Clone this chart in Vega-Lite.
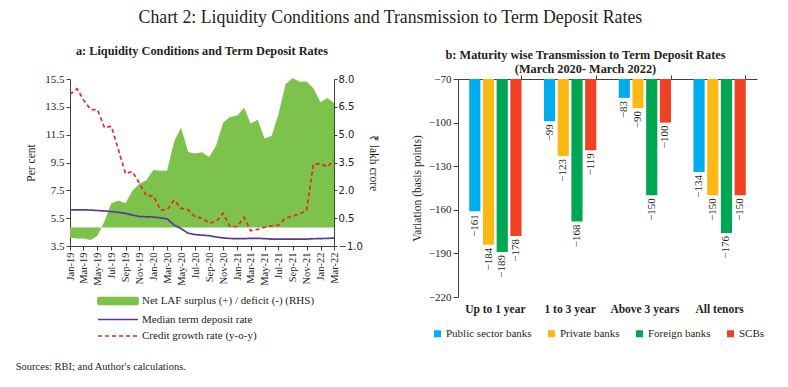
{
  "$schema": "https://vega.github.io/schema/vega-lite/v6.json",
  "background": "white",
  "padding": {"left": 15, "top": 8, "right": 5, "bottom": 5},
  "config": {
    "font": "Liberation Serif",
    "view": {"stroke": null},
    "axis": {"labelFont": "Liberation Serif", "titleFont": "Liberation Serif", "labelColor": "#231F20", "titleColor": "#231F20", "domainColor": "#404040", "tickColor": "#404040", "grid": false, "labelFontSize": 11, "titleFontSize": 11.5, "titleFontWeight": "normal"},
    "legend": {"labelFont": "Liberation Serif", "labelFontSize": 11, "labelColor": "#231F20"},
    "title": {"font": "Liberation Serif", "color": "#231F20"}
  },
  "title": {"text": "Chart 2: Liquidity Conditions and Transmission to Term Deposit Rates", "fontSize": 17.8, "fontWeight": "normal", "anchor": "middle", "offset": 18},
  "vconcat": [
    {
      "title": {"text": "Sources: RBI; and Author's calculations.", "orient": "bottom", "anchor": "start", "fontSize": 10.5, "fontWeight": "normal", "offset": 21, "dx": -10},
      "spacing": 32,
      "resolve": {"scale": {"color": "independent", "strokeDash": "independent"}, "legend": {"color": "independent", "strokeDash": "independent"}},
      "hconcat": [
        {
          "title": {"text": "a: Liquidity Conditions and Term Deposit Rates", "fontSize": 12.3, "fontWeight": "bold", "offset": 16, "anchor": "middle"},
          "width": 264,
          "height": 167,
          "data": {"values": [
            {"d": "2019-01-01", "s": "LAF", "v": -0.55}, {"d": "2019-02-01", "s": "LAF", "v": -0.6}, {"d": "2019-03-01", "s": "LAF", "v": -0.6}, {"d": "2019-04-01", "s": "LAF", "v": -0.67}, {"d": "2019-05-01", "s": "LAF", "v": -0.45}, {"d": "2019-06-01", "s": "LAF", "v": 0.35}, {"d": "2019-07-01", "s": "LAF", "v": 1.3}, {"d": "2019-08-01", "s": "LAF", "v": 1.45}, {"d": "2019-09-01", "s": "LAF", "v": 1.3}, {"d": "2019-10-01", "s": "LAF", "v": 1.98}, {"d": "2019-11-01", "s": "LAF", "v": 2.35}, {"d": "2019-12-01", "s": "LAF", "v": 2.55},
            {"d": "2020-01-01", "s": "LAF", "v": 3.1}, {"d": "2020-02-01", "s": "LAF", "v": 3.05}, {"d": "2020-03-01", "s": "LAF", "v": 3.07}, {"d": "2020-04-01", "s": "LAF", "v": 4.65}, {"d": "2020-05-01", "s": "LAF", "v": 5.37}, {"d": "2020-06-01", "s": "LAF", "v": 4.07}, {"d": "2020-07-01", "s": "LAF", "v": 3.98}, {"d": "2020-08-01", "s": "LAF", "v": 4.05}, {"d": "2020-09-01", "s": "LAF", "v": 3.8}, {"d": "2020-10-01", "s": "LAF", "v": 4.4}, {"d": "2020-11-01", "s": "LAF", "v": 5.65}, {"d": "2020-12-01", "s": "LAF", "v": 5.95},
            {"d": "2021-01-01", "s": "LAF", "v": 6.02}, {"d": "2021-02-01", "s": "LAF", "v": 6.45}, {"d": "2021-03-01", "s": "LAF", "v": 5.6}, {"d": "2021-04-01", "s": "LAF", "v": 5.8}, {"d": "2021-05-01", "s": "LAF", "v": 4.8}, {"d": "2021-06-01", "s": "LAF", "v": 4.94}, {"d": "2021-07-01", "s": "LAF", "v": 6.1}, {"d": "2021-08-01", "s": "LAF", "v": 7.72}, {"d": "2021-09-01", "s": "LAF", "v": 8.05}, {"d": "2021-10-01", "s": "LAF", "v": 7.85}, {"d": "2021-11-01", "s": "LAF", "v": 7.86}, {"d": "2021-12-01", "s": "LAF", "v": 7.5},
            {"d": "2022-01-01", "s": "LAF", "v": 6.75}, {"d": "2022-02-01", "s": "LAF", "v": 6.98}, {"d": "2022-03-01", "s": "LAF", "v": 6.7},
            {"d": "2019-01-01", "s": "MED", "v": 6.1}, {"d": "2019-02-01", "s": "MED", "v": 6.1}, {"d": "2019-03-01", "s": "MED", "v": 6.1}, {"d": "2019-04-01", "s": "MED", "v": 6.08}, {"d": "2019-05-01", "s": "MED", "v": 6.05}, {"d": "2019-06-01", "s": "MED", "v": 6.02}, {"d": "2019-07-01", "s": "MED", "v": 5.97}, {"d": "2019-08-01", "s": "MED", "v": 5.92}, {"d": "2019-09-01", "s": "MED", "v": 5.85}, {"d": "2019-10-01", "s": "MED", "v": 5.72}, {"d": "2019-11-01", "s": "MED", "v": 5.62}, {"d": "2019-12-01", "s": "MED", "v": 5.6},
            {"d": "2020-01-01", "s": "MED", "v": 5.58}, {"d": "2020-02-01", "s": "MED", "v": 5.52}, {"d": "2020-03-01", "s": "MED", "v": 5.45}, {"d": "2020-04-01", "s": "MED", "v": 5.0}, {"d": "2020-05-01", "s": "MED", "v": 4.75}, {"d": "2020-06-01", "s": "MED", "v": 4.42}, {"d": "2020-07-01", "s": "MED", "v": 4.32}, {"d": "2020-08-01", "s": "MED", "v": 4.28}, {"d": "2020-09-01", "s": "MED", "v": 4.24}, {"d": "2020-10-01", "s": "MED", "v": 4.15}, {"d": "2020-11-01", "s": "MED", "v": 4.08}, {"d": "2020-12-01", "s": "MED", "v": 4.04},
            {"d": "2021-01-01", "s": "MED", "v": 4.03}, {"d": "2021-02-01", "s": "MED", "v": 4.03}, {"d": "2021-03-01", "s": "MED", "v": 4.05}, {"d": "2021-04-01", "s": "MED", "v": 4.05}, {"d": "2021-05-01", "s": "MED", "v": 4.03}, {"d": "2021-06-01", "s": "MED", "v": 4.0}, {"d": "2021-07-01", "s": "MED", "v": 4.0}, {"d": "2021-08-01", "s": "MED", "v": 4.0}, {"d": "2021-09-01", "s": "MED", "v": 4.0}, {"d": "2021-10-01", "s": "MED", "v": 4.0}, {"d": "2021-11-01", "s": "MED", "v": 4.0}, {"d": "2021-12-01", "s": "MED", "v": 4.02},
            {"d": "2022-01-01", "s": "MED", "v": 4.03}, {"d": "2022-02-01", "s": "MED", "v": 4.05}, {"d": "2022-03-01", "s": "MED", "v": 4.07},
            {"d": "2019-01-01", "s": "CG", "v": 14.4}, {"d": "2019-02-01", "s": "CG", "v": 14.8}, {"d": "2019-03-01", "s": "CG", "v": 14.0}, {"d": "2019-04-01", "s": "CG", "v": 13.3}, {"d": "2019-05-01", "s": "CG", "v": 13.3}, {"d": "2019-06-01", "s": "CG", "v": 12.0}, {"d": "2019-07-01", "s": "CG", "v": 12.1}, {"d": "2019-08-01", "s": "CG", "v": 10.4}, {"d": "2019-09-01", "s": "CG", "v": 8.7}, {"d": "2019-10-01", "s": "CG", "v": 8.85}, {"d": "2019-11-01", "s": "CG", "v": 8.0}, {"d": "2019-12-01", "s": "CG", "v": 7.1},
            {"d": "2020-01-01", "s": "CG", "v": 7.1}, {"d": "2020-02-01", "s": "CG", "v": 6.1}, {"d": "2020-03-01", "s": "CG", "v": 6.1}, {"d": "2020-04-01", "s": "CG", "v": 6.8}, {"d": "2020-05-01", "s": "CG", "v": 6.2}, {"d": "2020-06-01", "s": "CG", "v": 6.1}, {"d": "2020-07-01", "s": "CG", "v": 5.6}, {"d": "2020-08-01", "s": "CG", "v": 5.5}, {"d": "2020-09-01", "s": "CG", "v": 5.15}, {"d": "2020-10-01", "s": "CG", "v": 5.25}, {"d": "2020-11-01", "s": "CG", "v": 5.85}, {"d": "2020-12-01", "s": "CG", "v": 4.9},
            {"d": "2021-01-01", "s": "CG", "v": 4.9}, {"d": "2021-02-01", "s": "CG", "v": 5.55}, {"d": "2021-03-01", "s": "CG", "v": 4.6}, {"d": "2021-04-01", "s": "CG", "v": 4.7}, {"d": "2021-05-01", "s": "CG", "v": 4.85}, {"d": "2021-06-01", "s": "CG", "v": 4.95}, {"d": "2021-07-01", "s": "CG", "v": 5.0}, {"d": "2021-08-01", "s": "CG", "v": 5.5}, {"d": "2021-09-01", "s": "CG", "v": 5.65}, {"d": "2021-10-01", "s": "CG", "v": 5.8}, {"d": "2021-11-01", "s": "CG", "v": 6.05}, {"d": "2021-12-01", "s": "CG", "v": 9.4},
            {"d": "2022-01-01", "s": "CG", "v": 9.4}, {"d": "2022-02-01", "s": "CG", "v": 9.2}, {"d": "2022-03-01", "s": "CG", "v": 9.7}
          ]},
          "encoding": {
            "x": {
              "field": "d", "type": "temporal",
              "scale": {"type": "utc", "nice": false},
              "axis": {
                "title": null, "format": "%b-%y", "labelAngle": 270, "labelAlign": "right", "labelBaseline": "middle",
                "labelFontSize": 10.5, "tickSize": 4, "labelPadding": 2,
                "values": [
                  {"year": 2019, "month": 1, "date": 1, "utc": true}, {"year": 2019, "month": 3, "date": 1, "utc": true}, {"year": 2019, "month": 5, "date": 1, "utc": true}, {"year": 2019, "month": 7, "date": 1, "utc": true}, {"year": 2019, "month": 9, "date": 1, "utc": true}, {"year": 2019, "month": 11, "date": 1, "utc": true},
                  {"year": 2020, "month": 1, "date": 1, "utc": true}, {"year": 2020, "month": 3, "date": 1, "utc": true}, {"year": 2020, "month": 5, "date": 1, "utc": true}, {"year": 2020, "month": 7, "date": 1, "utc": true}, {"year": 2020, "month": 9, "date": 1, "utc": true}, {"year": 2020, "month": 11, "date": 1, "utc": true},
                  {"year": 2021, "month": 1, "date": 1, "utc": true}, {"year": 2021, "month": 3, "date": 1, "utc": true}, {"year": 2021, "month": 5, "date": 1, "utc": true}, {"year": 2021, "month": 7, "date": 1, "utc": true}, {"year": 2021, "month": 9, "date": 1, "utc": true}, {"year": 2021, "month": 11, "date": 1, "utc": true},
                  {"year": 2022, "month": 1, "date": 1, "utc": true}, {"year": 2022, "month": 3, "date": 1, "utc": true}
                ]
              }
            }
          },
          "layer": [
            {
              "transform": [{"filter": "datum.s === 'LAF'"}],
              "mark": {"type": "area", "color": "#7DC24B", "opacity": 1},
              "encoding": {
                "y": {
                  "field": "v", "type": "quantitative",
                  "scale": {"domain": [-1, 8], "nice": false, "zero": false},
                  "axis": {"orient": "right", "values": [-1, 0.5, 2, 3.5, 5, 6.5, 8], "format": ".1f", "title": "₹ lakh crore", "labelFont": "DejaVu Sans", "labelFontSize": 10, "tickSize": 3, "labelPadding": 1, "titlePadding": 5}
                }
              }
            },
            {
              "transform": [{"filter": "datum.s !== 'LAF'"}],
              "mark": {"type": "line", "strokeWidth": 1.7},
              "encoding": {
                "y": {
                  "field": "v", "type": "quantitative",
                  "scale": {"domain": [3.5, 15.5], "nice": false, "zero": false},
                  "axis": {"orient": "left", "values": [3.5, 5.5, 7.5, 9.5, 11.5, 13.5, 15.5], "format": ".1f", "title": "Per cent", "tickSize": 4, "labelPadding": 2, "titlePadding": 8}
                },
                "color": {
                  "field": "s", "type": "nominal",
                  "scale": {"domain": ["LAF", "MED", "CG"], "range": ["#7DC24B", "#5B3A96", "#E8262B"]},
                  "legend": {"orient": "none", "legendX": 42, "legendY": 216, "direction": "vertical", "title": null, "symbolSize": 100, "labelOffset": 18, "rowPadding": 5.5, "labelFontSize": 11, "labelLimit": 400, "labelFont": "Liberation Serif",
                    "symbolType": {"expr": "datum.value === 'LAF' ? 'M-4,-0.7H4V0.7H-4Z' : 'M-4,0H4'"},
                    "symbolFillColor": {"expr": "datum.value === 'LAF' ? '#7DC24B' : 'transparent'"},
                    "symbolStrokeWidth": 1.7,
                    "labelExpr": "datum.label === 'LAF' ? 'Net LAF surplus (+) / deficit (-) (RHS)' : datum.label === 'MED' ? 'Median term deposit rate' : 'Credit growth rate (y-o-y)'"}
                },
                "strokeDash": {
                  "field": "s", "type": "nominal",
                  "scale": {"domain": ["LAF", "MED", "CG"], "range": [[1, 0], [1, 0], [4, 3]]},
                  "legend": {"orient": "none", "legendX": 42, "legendY": 216, "direction": "vertical", "title": null, "symbolSize": 100, "labelOffset": 18, "rowPadding": 5.5, "labelFontSize": 11, "labelLimit": 400, "labelFont": "Liberation Serif",
                    "symbolType": {"expr": "datum.value === 'LAF' ? 'M-4,-0.7H4V0.7H-4Z' : 'M-4,0H4'"},
                    "symbolFillColor": {"expr": "datum.value === 'LAF' ? '#7DC24B' : 'transparent'"},
                    "symbolStrokeWidth": 1.7,
                    "labelExpr": "datum.label === 'LAF' ? 'Net LAF surplus (+) / deficit (-) (RHS)' : datum.label === 'MED' ? 'Median term deposit rate' : 'Credit growth rate (y-o-y)'"}
                }
              }
            }
          ],
          "resolve": {"scale": {"y": "independent"}}
        },
        {
          "title": {"text": ["b: Maturity wise Transmission to Term Deposit Rates", "(March 2020- March 2022)"], "fontSize": 12.3, "fontWeight": "bold", "lineHeight": 14, "anchor": "middle", "offset": -2, "dx": -22},
          "width": 299,
          "height": 218,
          "data": {"values": [
            {"tenor": "Up to 1 year", "bank": "Public sector banks", "v": -161},
            {"tenor": "Up to 1 year", "bank": "Private banks", "v": -184},
            {"tenor": "Up to 1 year", "bank": "Foreign banks", "v": -189},
            {"tenor": "Up to 1 year", "bank": "SCBs", "v": -178},
            {"tenor": "1 to 3 year", "bank": "Public sector banks", "v": -99},
            {"tenor": "1 to 3 year", "bank": "Private banks", "v": -123},
            {"tenor": "1 to 3 year", "bank": "Foreign banks", "v": -168},
            {"tenor": "1 to 3 year", "bank": "SCBs", "v": -119},
            {"tenor": "Above 3 years", "bank": "Public sector banks", "v": -83},
            {"tenor": "Above 3 years", "bank": "Private banks", "v": -90},
            {"tenor": "Above 3 years", "bank": "Foreign banks", "v": -150},
            {"tenor": "Above 3 years", "bank": "SCBs", "v": -100},
            {"tenor": "All tenors", "bank": "Public sector banks", "v": -134},
            {"tenor": "All tenors", "bank": "Private banks", "v": -150},
            {"tenor": "All tenors", "bank": "Foreign banks", "v": -176},
            {"tenor": "All tenors", "bank": "SCBs", "v": -150}
          ]},
          "encoding": {
            "y": {"field": "v", "type": "quantitative", "scale": {"domain": [-220, -70], "nice": false, "zero": false},
              "axis": {"values": [-220, -190, -160, -130, -100, -70], "format": "d", "title": "Variation (basis points)", "tickSize": 5, "labelPadding": 2, "titlePadding": 6}}
          },
          "layer": [
            {
              "mark": {"type": "bar"},
              "encoding": {
                "x": {"field": "tenor", "type": "nominal", "sort": ["Up to 1 year", "1 to 3 year", "Above 3 years", "All tenors"], "scale": {"paddingInner": 0.3, "paddingOuter": 0.15},
                  "axis": {"orient": "top", "labels": false, "title": null, "bandPosition": 1, "tickSize": 4}},
                "xOffset": {"field": "bank", "type": "nominal", "sort": ["Public sector banks", "Private banks", "Foreign banks", "SCBs"], "scale": {"paddingInner": 0.185, "paddingOuter": 0}},
                "y2": {"datum": -70},
                "color": {"field": "bank", "type": "nominal",
                  "scale": {"domain": ["Public sector banks", "Private banks", "Foreign banks", "SCBs"], "range": ["#00AEEF", "#FDB913", "#00A651", "#EF4123"]},
                  "legend": {"orient": "none", "legendX": -26, "legendY": 249, "direction": "horizontal", "title": null, "symbolType": "square", "symbolSize": 49, "labelOffset": 3, "columnPadding": 14, "labelFontSize": 11, "labelFont": "Liberation Serif", "symbolStrokeWidth": 0}}
              }
            },
            {
              "mark": {"type": "text", "angle": 270, "align": "right", "baseline": "middle", "dx": -3, "fontSize": 11, "color": "#231F20"},
              "encoding": {
                "x": {"field": "tenor", "type": "nominal", "sort": ["Up to 1 year", "1 to 3 year", "Above 3 years", "All tenors"], "scale": {"paddingInner": 0.3, "paddingOuter": 0.15},
                  "axis": {"orient": "bottom", "domain": false, "ticks": false, "labelAngle": 0, "labelFontWeight": "bold", "labelFontSize": 11.5, "labelPadding": 6, "title": null}},
                "xOffset": {"field": "bank", "type": "nominal", "sort": ["Public sector banks", "Private banks", "Foreign banks", "SCBs"], "scale": {"paddingInner": 0.185, "paddingOuter": 0}},
                "text": {"field": "v", "type": "quantitative", "format": "d"}
              }
            }
          ],
          "resolve": {"axis": {"x": "independent"}}
        }
      ]
    }
  ]
}
